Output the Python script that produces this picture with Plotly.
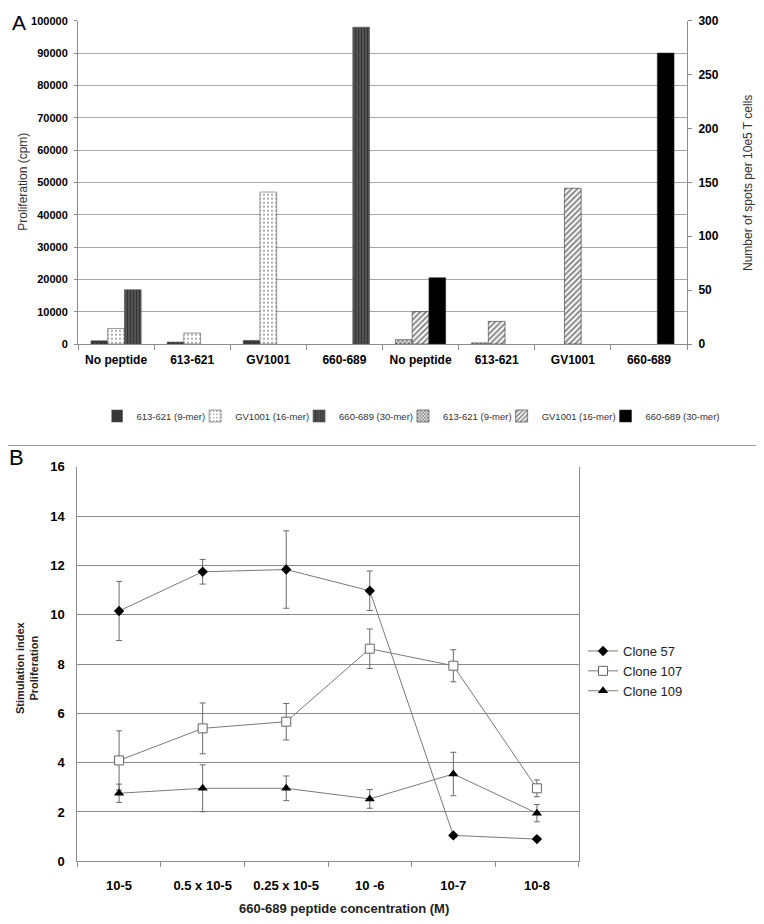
import plotly.graph_objects as go

# ---------------- Panel A data ----------------
categories = ["No peptide", "613-621", "GV1001", "660-689"]
tick_labels_a = categories + categories
series_names = ["613-621 (9-mer)", "GV1001 (16-mer)", "660-689 (30-mer)"]

# None = no bar drawn in that group
prolif_613 = [1000, 600, 1100, None]
prolif_gv1001 = [4800, 3400, 47000, None]
prolif_660 = [16800, None, None, 98000]

spots_613 = [4, 1, None, None]
spots_gv1001 = [30, 21, 144.5, None]
spots_660 = [61.5, None, None, 270]

# ---------------- Panel B data ----------------
concentrations = ["10-5", "0.5 x 10-5", "0.25 x 10-5", "10 -6", "10-7", "10-8"]
clone57 = [10.15, 11.74, 11.83, 10.97, 1.05, 0.9]
clone57_err = [1.2, 0.5, 1.57, 0.8, 0.08, 0.08]
clone107 = [4.09, 5.39, 5.66, 8.62, 7.93, 2.96]
clone107_err = [1.2, 1.03, 0.74, 0.8, 0.65, 0.34]
clone109 = [2.76, 2.96, 2.96, 2.53, 3.54, 1.95]
clone109_err = [0.37, 0.95, 0.5, 0.38, 0.88, 0.35]

FONT = "Liberation Sans, Arial, sans-serif"
NARROW = "Liberation Sans Narrow, Arial Narrow, Liberation Sans, Arial, sans-serif"
GRID = "#a8a8a8"
AXIS = "#8c8c8c"

# page is 764x924; the html body has an 8px margin, so the figure is 748x908
PAGE_MARGIN = 8
W, H = 764 - 2 * PAGE_MARGIN, 924 - 2 * PAGE_MARGIN
def px_x(v):
    return (v - PAGE_MARGIN) / W
def px_y(v):
    return 1 - (v - PAGE_MARGIN) / H

fig = go.Figure()

left_x = list(range(len(categories)))
right_x = [i + len(categories) for i in range(len(categories))]
bw = 0.22
offsets = [-1.5 * bw, -0.5 * bw, 0.5 * bw]

left_styles = [
    dict(color="#333", pattern=dict(shape="x", bgcolor="#2a2a2a", fgcolor="#d0d0d0", size=3, solidity=0.2)),
    dict(color="white", pattern=dict(shape=".", bgcolor="white", fgcolor="#222", size=4, solidity=0.18)),
    dict(color="#444", pattern=dict(shape="|", bgcolor="#5a5a5a", fgcolor="#111", size=3, solidity=0.5)),
]
right_styles = [
    dict(color="#222", pattern=dict(shape="x", bgcolor="white", fgcolor="#111", size=3, solidity=0.6)),
    dict(color="#666", pattern=dict(shape="/", bgcolor="white", fgcolor="#111", size=4, solidity=0.5)),
    dict(color="black"),
]

for name, vals, off, st in zip(series_names, [prolif_613, prolif_gv1001, prolif_660], offsets, left_styles):
    fig.add_trace(go.Bar(
        x=left_x, y=vals, name=name, width=bw, offset=off,
        marker=dict(**st, line=dict(color="#555", width=0.6)),
        xaxis="x", yaxis="y", legend="legend",
    ))
for name, vals, off, st in zip(series_names, [spots_613, spots_gv1001, spots_660], offsets, right_styles):
    fig.add_trace(go.Bar(
        x=right_x, y=vals, name=name, width=bw, offset=off,
        marker=dict(**st, line=dict(color="#333", width=0.6)),
        xaxis="x", yaxis="y2", legend="legend",
    ))

xb = list(range(len(concentrations)))
line_col = "#7a7a7a"
err_col = "#6a6a6a"
fig.add_trace(go.Scatter(
    x=xb, y=clone57, name="Clone 57", mode="lines+markers",
    line=dict(color=line_col, width=1),
    marker=dict(symbol="diamond", size=8, color="black"),
    error_y=dict(type="data", array=clone57_err, color=err_col, thickness=1, width=3),
    xaxis="x2", yaxis="y3", legend="legend2", legendgroup="a",
))
fig.add_trace(go.Scatter(
    x=xb, y=clone107, name="Clone 107", mode="lines+markers",
    line=dict(color=line_col, width=1),
    marker=dict(symbol="square", size=9, color="white", line=dict(color="#666", width=1)),
    error_y=dict(type="data", array=clone107_err, color=err_col, thickness=1, width=3),
    xaxis="x2", yaxis="y3", legend="legend2", legendgroup="b",
))
fig.add_trace(go.Scatter(
    x=xb, y=clone109, name="Clone 109", mode="lines+markers",
    line=dict(color=line_col, width=1),
    marker=dict(symbol="triangle-up", size=9, color="black"),
    error_y=dict(type="data", array=clone109_err, color=err_col, thickness=1, width=3),
    xaxis="x2", yaxis="y3", legend="legend2", legendgroup="c",
))

fig.update_layout(
    width=W, height=H, autosize=False,
    margin=dict(l=0, r=0, t=0, b=0, autoexpand=False),
    paper_bgcolor="white", plot_bgcolor="white",
    font=dict(family=FONT, color="black", size=12),
    barmode="overlay",
    xaxis=dict(
        domain=[px_x(78), px_x(687)], anchor="y",
        range=[-0.5, 7.5], tickmode="array", tickvals=list(range(8)), ticktext=tick_labels_a,
        ticks="", showgrid=False, zeroline=False,
        showline=True, linecolor=AXIS, linewidth=1,
        tickfont=dict(family=FONT, size=12, color="black", weight="bold"),
        ticklabelstandoff=5,
        minor=dict(tick0=-0.5, dtick=1, ticks="outside", ticklen=5, tickcolor=AXIS, showgrid=False),
    ),
    yaxis=dict(
        domain=[px_y(344), px_y(20.7)], anchor="x",
        range=[0, 100000], dtick=10000, tickformat="d",
        showgrid=True, gridcolor=GRID, gridwidth=1, zeroline=False,
        showline=True, linecolor=AXIS, linewidth=1,
        ticks="outside", ticklen=3, tickcolor=AXIS,
        tickfont=dict(family=FONT, size=11, color="black", weight="bold"),
        ticklabelstandoff=4,
    ),
    yaxis2=dict(
        overlaying="y", side="right", anchor="x",
        range=[0, 300], dtick=50,
        showgrid=False, zeroline=False,
        showline=True, linecolor=AXIS, linewidth=1,
        ticks="outside", ticklen=4, tickcolor=AXIS,
        tickfont=dict(family=FONT, size=12, color="black", weight="bold"),
        ticklabelstandoff=4,
    ),
    xaxis2=dict(
        domain=[px_x(77.3), px_x(578.7)], anchor="y3",
        range=[-0.5, 5.5], tickmode="array", tickvals=xb, ticktext=concentrations,
        ticks="", showgrid=False, zeroline=False,
        showline=True, linecolor=AXIS, linewidth=1, mirror=False,
        tickfont=dict(family=NARROW, size=13, color="black", weight="bold"),
        ticklabelstandoff=12,
        minor=dict(tick0=-0.5, dtick=1, ticks="outside", ticklen=5, tickcolor=AXIS, showgrid=False),
    ),
    yaxis3=dict(
        domain=[px_y(861.3), px_y(466.7)], anchor="x2",
        range=[0, 16], dtick=2,
        showgrid=True, gridcolor="#8a8a8a", gridwidth=1.2, zeroline=False,
        showline=True, linecolor=AXIS, linewidth=1, mirror=True,
        ticks="",
        tickfont=dict(family=NARROW, size=13, color="black", weight="bold"),
        ticklabelstandoff=9,
    ),
    legend=dict(
        orientation="h", x=px_x(418), xanchor="center", y=px_y(416), yanchor="middle",
        font=dict(family=FONT, size=9.5, color="#333"), bgcolor="rgba(0,0,0,0)",
        borderwidth=3, bordercolor="rgba(0,0,0,0)", indentation=-15,
        traceorder="normal",
    ),
    legend2=dict(
        orientation="v", x=px_x(583), xanchor="left", y=px_y(636), yanchor="top",
        font=dict(family=NARROW, size=13, color="#222"), bgcolor="rgba(0,0,0,0)",
        tracegroupgap=3, traceorder="normal",
    ),
    showlegend=True,
)

annotations = [
    dict(text="A", x=px_x(10), y=px_y(23), xanchor="left", yanchor="middle",
         font=dict(family=FONT, size=21, color="black")),
    dict(text="B", x=px_x(7), y=px_y(457), xanchor="left", yanchor="middle",
         font=dict(family=FONT, size=22, color="black")),
    dict(text="Proliferation (cpm)", x=px_x(22.7), y=px_y(182), textangle=-90,
         xanchor="center", yanchor="middle", font=dict(family=FONT, size=12, color="#333")),
    dict(text="Number of spots per 10e5 T cells", x=px_x(748), y=px_y(183), textangle=-90,
         xanchor="center", yanchor="middle", font=dict(family=FONT, size=12, color="#333")),
    dict(text="Stimulation index<br>Proliferation", x=px_x(27), y=px_y(668), textangle=-90,
         xanchor="center", yanchor="middle",
         font=dict(family=FONT, size=11, color="#222", weight="bold")),
    dict(text="660-689 peptide concentration (M)", x=px_x(343.7), y=px_y(908),
         xanchor="center", yanchor="middle",
         font=dict(family=NARROW, size=13, color="#222", weight="bold")),
]
for a in annotations:
    a.update(xref="paper", yref="paper", showarrow=False)
fig.update_layout(annotations=annotations)

fig.add_shape(type="line", xref="paper", yref="paper", x0=px_x(0), x1=px_x(764),
              y0=px_y(445.5), y1=px_y(445.5), line=dict(color="#999", width=1))

fig.write_html("out.html")
